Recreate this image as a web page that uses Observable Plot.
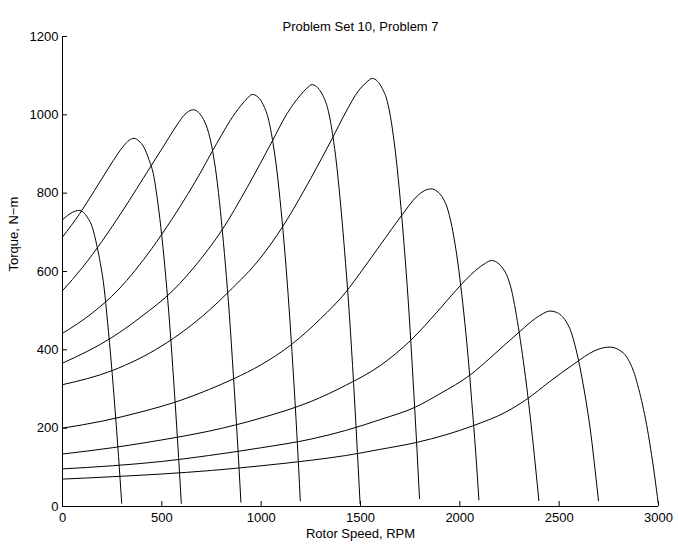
<!DOCTYPE html>
<html>
<head>
<meta charset="utf-8">
<script src="https://cdn.jsdelivr.net/npm/d3@7"></script>
<script src="https://cdn.jsdelivr.net/npm/@observablehq/plot@0.6"></script>
<style>
  body { margin: 0; background: #fff; }
</style>
</head>
<body>
<div id="chart"></div>
<script>
// Synchronous speeds (RPM) of the ten torque–speed curves
const syncSpeeds = [300, 600, 900, 1200, 1500, 1800, 2100, 2400, 2700, 3000];

// [rotor speed RPM, torque N-m]
const curve300 = [[0,732],[25,743],[50,751],[82,756],[105,751],[127,737],[150,713],[173,666],[191,620],[209,560],[227,470],[246,364],[264,251],[282,128],[298,8]];
const curve600 = [[0,688],[87,748],[160,806],[229,862],[280,902],[310,922],[335,935],[360,940],[385,933],[410,917],[435,886],[460,842],[480,775],[500,690],[520,585],[540,462],[560,318],[580,162],[598,8]];
const curve900 = [[0,551],[100,610],[200,678],[300,753],[440,865],[510,921],[580,977],[610,998],[635,1009],[660,1013],[685,1006],[710,988],[735,955],[760,895],[780,824],[800,728],[820,617],[840,490],[860,336],[880,174],[898,11]];
const curve1200 = [[0,442],[150,494],[280,553],[366,603],[450,659],[550,733],[630,797],[693,851],[752,905],[800,948],[845,986],[900,1025],[930,1042],[955,1052],[985,1045],[1010,1026],[1035,992],[1060,927],[1080,854],[1100,758],[1120,645],[1140,510],[1160,355],[1180,182],[1197,14]];
const curve1500 = [[0,366],[250,432],[400,486],[557,552],[693,630],[803,706],[930,815],[1055,932],[1130,1003],[1197,1050],[1230,1068],[1256,1077],[1285,1069],[1310,1050],[1335,1016],[1360,949],[1380,872],[1400,770],[1420,652],[1440,519],[1460,360],[1480,180],[1498,8]];
const curve1800 = [[0,311],[250,347],[500,410],[734,499],[836,548],[1000,637],[1105,712],[1250,838],[1357,939],[1424,1005],[1491,1062],[1530,1083],[1559,1093],[1585,1086],[1610,1067],[1635,1034],[1660,966],[1680,886],[1700,784],[1720,664],[1740,527],[1760,363],[1780,185],[1797,20]];
const curve2100 = [[0,200],[200,218],[400,242],[600,272],[734,298],[861,326],[1000,362],[1156,415],[1300,480],[1424,546],[1508,603],[1600,668],[1710,745],[1780,790],[1820,806],[1856,811],[1885,805],[1910,791],[1935,765],[1960,715],[1980,657],[2000,583],[2020,494],[2040,391],[2060,268],[2080,137],[2096,17]];
const curve2400 = [[0,134],[250,150],[500,170],[734,192],[1000,226],[1250,268],[1424,309],[1600,360],[1752,424],[1900,505],[1979,551],[2080,603],[2125,620],[2159,628],[2185,624],[2210,612],[2235,592],[2260,553],[2280,502],[2300,440],[2320,370],[2340,292],[2360,203],[2380,106],[2398,15]];
const curve2700 = [[0,96],[250,104],[500,115],[734,130],[1000,150],[1250,172],[1424,194],[1600,222],[1777,254],[1900,288],[2055,337],[2150,378],[2231,415],[2307,449],[2380,480],[2420,493],[2454,499],[2485,496],[2510,488],[2535,472],[2560,446],[2580,411],[2600,367],[2620,314],[2640,254],[2660,184],[2680,97],[2698,15]];
const curve3000 = [[0,70],[250,76],[500,83],[750,92],[1000,104],[1250,118],[1424,130],[1600,146],[1786,164],[2071,207],[2231,241],[2340,275],[2450,318],[2575,364],[2680,398],[2720,405],[2757,407],[2785,404],[2810,397],[2835,385],[2860,363],[2880,337],[2900,301],[2920,259],[2940,209],[2960,149],[2980,80],[2999,7]];

// Axis ticks and labels
const xTicks = [0, 500, 1000, 1500, 2000, 2500, 3000];
const yTicks = [0, 200, 400, 600, 800, 1000, 1200];
const titleText = "Problem Set 10, Problem 7";
const xLabel = "Rotor Speed, RPM";
const yLabel = "Torque, N\u2212m";

const curves = [curve300, curve600, curve900, curve1200, curve1500, curve1800, curve2100, curve2400, curve2700, curve3000];
const rows = curves.flatMap((c, i) => c.map(([speed, torque]) => ({sync: syncSpeeds[i], speed, torque})));

const chart = Plot.plot({
  width: 678,
  height: 550,
  marginLeft: 62,
  marginRight: 20,
  marginTop: 36,
  marginBottom: 44,
  style: {fontFamily: "'Liberation Sans', Arial, Helvetica, sans-serif", fontSize: "13px", background: "#fff", color: "#000", overflow: "visible"},
  x: {domain: [0, 3000], ticks: xTicks, tickSize: 0, tickPadding: 6, tickFormat: d => String(d), label: null},
  y: {domain: [0, 1200], ticks: yTicks, tickSize: 0, tickPadding: 4, tickFormat: d => String(d), label: null},
  marks: [
    Plot.line(rows, {x: "speed", y: "torque", z: "sync", curve: "monotone-x", stroke: "#000", strokeWidth: 1}),
    Plot.tickX(xTicks, {x: d => d, insetTop: 465, stroke: "#000"}),
    Plot.tickY(yTicks, {y: d => d, insetRight: 591, stroke: "#000"}),
    Plot.ruleX([0], {stroke: "#000"}),
    Plot.ruleY([0], {stroke: "#000"}),
    Plot.text([titleText], {frameAnchor: "top", dy: -15, text: d => d, fill: "#000"}),
    Plot.text([xLabel], {frameAnchor: "bottom", dy: 31, text: d => d, fill: "#000"}),
    Plot.text([yLabel], {frameAnchor: "left", dx: -49, rotate: -90, text: d => d, fill: "#000"})
  ]
});
document.getElementById("chart").appendChild(chart);
</script>
</body>
</html>
